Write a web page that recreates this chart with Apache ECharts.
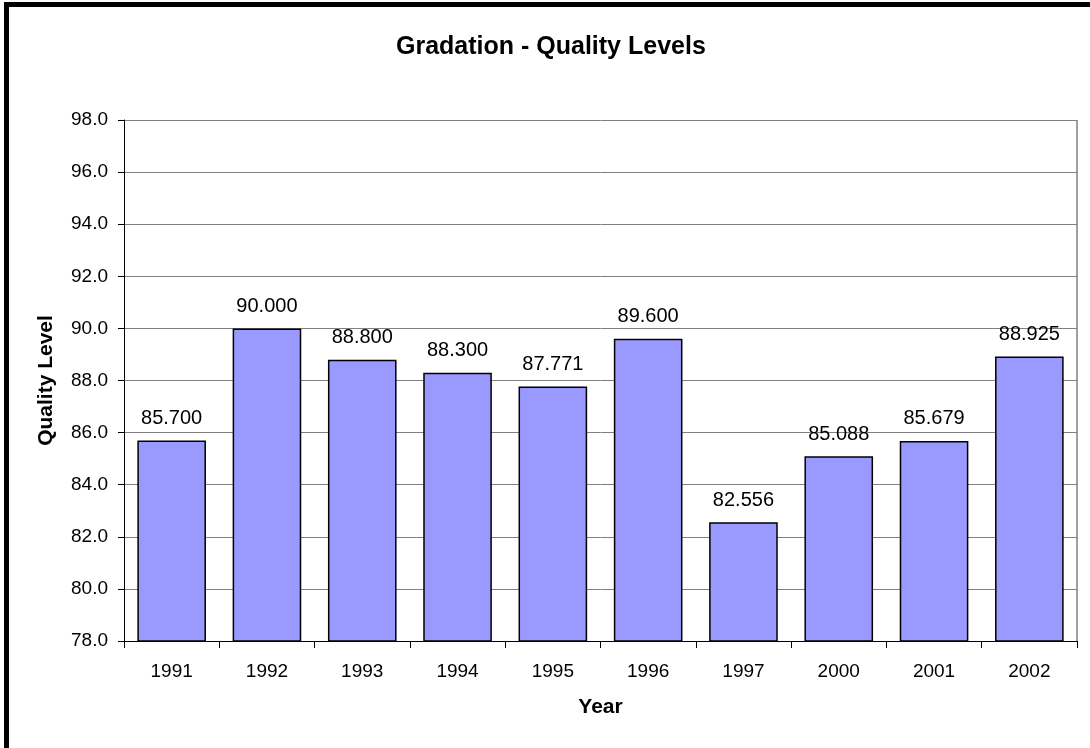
<!DOCTYPE html>
<html>
<head>
<meta charset="utf-8">
<script src="https://cdn.jsdelivr.net/npm/echarts@6/dist/echarts.min.js"></script>
<style>
  html, body { margin: 0; padding: 0; background: #fff; }
  #frame { position: absolute; left: 4px; top: 2px; width: 1086px; height: 746px;
           border-left: 5px solid #000; border-top: 5px solid #000; box-sizing: border-box; }
  #chart { position: absolute; left: 0; top: 0; width: 1090px; height: 748px; }
</style>
</head>
<body>
<div id="frame"></div>
<div id="chart"></div>
<script>
var years = ['1991', '1992', '1993', '1994', '1995', '1996', '1997', '2000', '2001', '2002'];
var quality = [85.700, 90.000, 88.800, 88.300, 87.771, 89.600, 82.556, 85.088, 85.679, 88.925];

var chart = echarts.init(document.getElementById('chart'));
chart.setOption({
  animation: false,
  textStyle: { fontFamily: 'Liberation Sans, Arial, sans-serif' },
  title: {
    text: 'Gradation - Quality Levels',
    left: 391,
    top: 30,
    textStyle: { fontSize: 25, fontWeight: 'bold', color: '#000' }
  },
  grid: { left: 124, right: 13, top: 120, bottom: 107 },
  xAxis: {
    type: 'category',
    data: years,
    name: 'Year',
    nameLocation: 'middle',
    nameGap: 56,
    nameTextStyle: { fontSize: 21, fontWeight: 'bold', color: '#000' },
    axisLine: { lineStyle: { color: '#000', width: 1 } },
    axisTick: { show: true, alignWithLabel: false, length: 7, lineStyle: { color: '#000' } },
    axisLabel: { fontSize: 19, color: '#000', margin: 21 }
  },
  yAxis: {
    type: 'value',
    min: 78,
    max: 98,
    interval: 2,
    name: 'Quality Level',
    nameLocation: 'middle',
    nameGap: 67,
    nameTextStyle: { fontSize: 21, fontWeight: 'bold', color: '#000' },
    axisLine: { show: true, lineStyle: { color: '#000', width: 1 } },
    axisTick: { show: true, length: 6, lineStyle: { color: '#000' } },
    axisLabel: { fontSize: 19, color: '#000', margin: 16, formatter: function (v) { return v.toFixed(1); } },
    splitLine: { lineStyle: { color: '#808080', width: 1 } }
  },
  graphic: [{
    type: 'line',
    shape: { x1: 1077, y1: 120, x2: 1077, y2: 641 },
    style: { stroke: '#808080', lineWidth: 1.5 }
  }],
  series: [{
    type: 'bar',
    data: quality,
    barCategoryGap: '28%',
    itemStyle: { color: '#9999FF', borderColor: '#000', borderWidth: 1.5 },
    label: {
      show: true,
      position: 'top',
      distance: 12,
      fontSize: 20,
      color: '#000',
      formatter: function (p) { return p.value.toFixed(3); }
    }
  }]
});
</script>
</body>
</html>
